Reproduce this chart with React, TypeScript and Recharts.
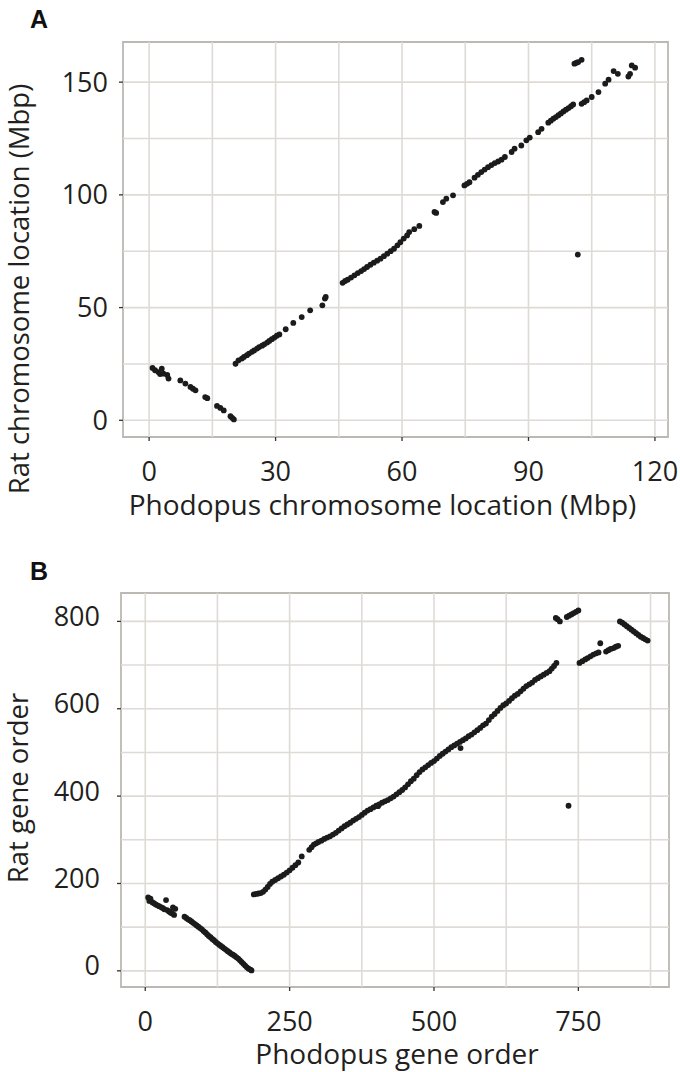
import React from 'react'
import { ReferenceArea, ReferenceLine, Scatter, ScatterChart, XAxis, YAxis } from 'recharts'

// Panel A: chromosome location, Mbp (phodopus x, rat y)
const aDescending = [
  [0.8, 23.2], [1.4, 22.2], [2.2, 21.4], [2.6, 20.5], [3.0, 22.9], [3.4, 20.7], [4.3, 20.1], [4.6, 18.5],
  [7.4, 17.7], [8.6, 16.3], [9.8, 14.8], [10.4, 14.0], [11.0, 13.3], [13.3, 10.3], [13.8, 9.8],
  [16.1, 6.4], [16.9, 5.5], [17.7, 4.4], [19.3, 1.8], [19.7, 1.1], [20.1, 0.4],
]
const aAscending = [
  [20.5, 25.1], [21.2, 26.6], [22.0, 27.4], [22.5, 28.1], [23.2, 28.9], [23.7, 29.6], [24.4, 30.4],
  [24.9, 31.0], [25.6, 31.8], [26.1, 32.5], [26.8, 33.1], [27.3, 33.7], [28.0, 34.5], [28.5, 35.2],
  [29.1, 36.0], [29.7, 36.7], [30.3, 37.5], [30.9, 38.1], [32.4, 40.4], [34.2, 43.2], [36.2, 45.8],
  [38.2, 48.8], [41.1, 51.0], [41.7, 54.0], [41.9, 54.7],
  [45.9, 61.0], [46.5, 61.8], [47.1, 62.4], [47.9, 63.3], [48.7, 64.3], [49.5, 65.3], [50.3, 66.2],
  [51.0, 67.1], [51.7, 68.0], [52.5, 69.0], [53.3, 69.9], [54.1, 70.8], [54.9, 71.7], [55.7, 72.8],
  [56.5, 73.9], [57.3, 75.0], [58.1, 76.1], [58.9, 77.6], [59.6, 79.0], [60.4, 80.6], [61.2, 82.0],
  [61.7, 83.5], [62.9, 84.8], [64.1, 86.2],
  [67.7, 92.4], [68.1, 92.0], [69.7, 96.8], [70.5, 98.3], [72.1, 99.8],
  [74.8, 104.2], [75.4, 104.9], [76.0, 105.6], [77.2, 107.6], [78.0, 108.9], [78.8, 110.1], [79.6, 111.2],
  [80.4, 112.3], [81.2, 113.2], [82.0, 114.1], [82.8, 114.8], [83.6, 115.6], [84.4, 116.8],
  [86.0, 119.0], [86.7, 120.5], [88.3, 121.9], [89.5, 124.2], [90.3, 125.4],
  [92.3, 127.8], [93.1, 129.3], [94.7, 132.0], [95.3, 132.9], [95.9, 133.8], [96.5, 134.5], [97.1, 135.3],
  [97.7, 136.1], [98.3, 137.0], [98.9, 137.8], [99.5, 138.5], [100.1, 139.3], [100.6, 140.1],
]
const aTail = [
  [102.6, 140.4], [103.2, 141.1], [103.8, 141.9], [105.0, 143.4], [106.6, 145.6], [108.2, 149.3],
  [109.0, 151.1], [110.2, 154.9], [111.2, 153.7], [113.7, 152.5], [114.1, 153.7], [114.5, 157.4], [115.3, 156.4],
  [100.9, 158.2], [101.4, 158.6], [101.8, 158.9], [102.6, 159.9],
  [101.7, 73.5],
]
const aXTicks = [0, 30, 60, 90, 120]
const aYTicks = [0, 50, 100, 150]
const aXGrid = [0, 15, 30, 45, 60, 75, 90, 105, 120]
const aYGrid = [0, 25, 50, 75, 100, 125, 150]
const aXDomain = [-6.2, 123.1]
const aYDomain = [-7.4, 167.8]

// Panel B: gene order
const bDescending = [
  [5, 168], [7, 160], [9, 165], [12, 157], [15, 155], [18, 152], [21, 150], [24, 148], [27, 146], [30, 144],
  [33, 141], [36, 162], [38, 139], [41, 136], [44, 133], [47, 131], [48, 145], [50, 128], [52, 142],
  [68, 124], [71, 121], [74, 118], [77, 116], [80, 113], [83, 110], [86, 107], [89, 104], [92, 101],
  [95, 98], [98, 95], [101, 91], [104, 88], [107, 84], [110, 80], [113, 77], [116, 73], [119, 70],
  [122, 66], [125, 63], [128, 60], [131, 57], [134, 54], [137, 51], [140, 48], [143, 45], [146, 42],
  [149, 39], [152, 37], [155, 34], [158, 31], [161, 28], [164, 24], [167, 20], [170, 16], [173, 12],
  [176, 8], [179, 5], [182, 3], [184, 1],
]
const bAscending = [
  [188, 175], [192, 176], [196, 177], [200, 178], [204, 181], [208, 186], [212, 192], [216, 199],
  [220, 204], [225, 208], [230, 212], [235, 216], [240, 220], [245, 225], [250, 230], [255, 236],
  [260, 242], [265, 248], [271, 262], [284, 277], [288, 283], [292, 289],
  [296, 292], [300, 295], [305, 298], [310, 302], [315, 305], [320, 308], [325, 312], [330, 316],
  [335, 321], [340, 326], [345, 331], [350, 335], [355, 339], [360, 344], [365, 348], [370, 352],
  [375, 357], [380, 362], [385, 367], [390, 370], [395, 374], [400, 378], [403, 377], [405, 381],
  [410, 385], [415, 388], [420, 391], [425, 395], [430, 399], [435, 404], [440, 409], [445, 414],
  [450, 420], [455, 427], [460, 434], [465, 440], [470, 448], [475, 455], [480, 461], [485, 466],
  [490, 471], [495, 476], [500, 480], [505, 486], [510, 492], [515, 497], [520, 502], [525, 507],
  [530, 512], [535, 516], [540, 520], [545, 524], [546, 510], [550, 528], [555, 532], [560, 537],
  [565, 541], [570, 546], [575, 551], [580, 556], [585, 562], [590, 566], [595, 574], [600, 582],
  [605, 588], [610, 595], [615, 602], [620, 608], [625, 612], [630, 618], [635, 624], [640, 630],
  [645, 634], [650, 640], [655, 646], [660, 652], [665, 656], [670, 660], [675, 666], [680, 670],
  [685, 674], [690, 678], [695, 682], [700, 686], [704, 692], [708, 698], [712, 705],
]
const bTail = [
  [711, 808], [714, 805], [718, 800], [730, 810], [734, 813], [738, 816], [742, 819], [746, 822], [750, 825],
  [752, 705], [757, 709], [762, 713], [766, 716], [771, 720], [776, 724], [781, 727], [785, 729], [788, 750],
  [798, 731], [802, 734], [806, 737], [811, 739], [815, 742], [819, 744],
  [822, 800], [826, 797], [830, 793], [834, 789], [838, 785], [842, 781], [846, 777], [850, 773],
  [854, 769], [858, 765], [862, 762], [866, 759], [870, 756],
  [733, 378],
]
const bXTicks = [0, 250, 500, 750]
const bYTicks = [0, 200, 400, 600, 800]
const bXGrid = [0, 125, 250, 375, 500, 625, 750, 875]
const bYGrid = [0, 100, 200, 300, 400, 500, 600, 700, 800]
const bXDomain = [-42, 907]
const bYDomain = [-37, 865]

const toPoints = (rows: number[][]) => rows.map(([x, y]) => ({ x, y }))

const FONT = '"Open Sans", sans-serif'
const INK = '#231f20'
const GRID = '#dedad6'
const FRAME = '#bcb8b4'

const tickFont = { fontFamily: FONT, fontSize: 27, fill: INK }

const Dot = (p: any) => <circle cx={p.cx} cy={p.cy} r={2.9} fill="#1b1b1b" />

function Panel({ data, xDomain, yDomain, xTicks, yTicks, xGrid, yGrid, height, margin, yTickMargin, yDy }: any) {
  return (
    <ScatterChart width={680} height={height} margin={margin}>
      {xGrid.map((v: number) => (
        <ReferenceLine key={'x' + v} x={v} stroke={GRID} strokeWidth={1.6} />
      ))}
      {yGrid.map((v: number) => (
        <ReferenceLine key={'y' + v} y={v} stroke={GRID} strokeWidth={1.6} />
      ))}
      <ReferenceArea
        x1={xDomain[0]} x2={xDomain[1]} y1={yDomain[0]} y2={yDomain[1]}
        fill="none" stroke={FRAME} strokeWidth={1.8} ifOverflow="visible"
      />
      <XAxis
        type="number" dataKey="x" domain={xDomain} ticks={xTicks} allowDataOverflow
        axisLine={false} tickSize={4} tickMargin={21} height={60}
        tickLine={{ stroke: '#333', strokeWidth: 1.3 }} tick={tickFont}
      />
      <YAxis
        type="number" dataKey="y" domain={yDomain} ticks={yTicks} allowDataOverflow
        axisLine={false} tickSize={4} tickMargin={yTickMargin} width={80}
        tickLine={{ stroke: '#333', strokeWidth: 1.3 }} tick={{ ...tickFont, dy: yDy }}
      />
      <Scatter data={data} shape={Dot} isAnimationActive={false} />
    </ScatterChart>
  )
}

export default function App() {
  const dataA = toPoints([...aDescending, ...aAscending, ...aTail])
  const dataB = toPoints([...bDescending, ...bAscending, ...bTail])
  return (
    <div style={{ position: 'absolute', left: 0, top: 0, width: 680, height: 1072, background: '#fff' }}>
      <div style={{ position: 'absolute', left: 0, top: 0 }}>
        <Panel
          data={dataA} xDomain={aXDomain} yDomain={aYDomain} xTicks={aXTicks} yTicks={aYTicks}
          xGrid={aXGrid} yGrid={aYGrid} height={540}
          margin={{ top: 42, right: 12, left: 43, bottom: 43 }} yTickMargin={11} yDy={0}
        />
      </div>
      <div style={{ position: 'absolute', left: 0, top: 540 }}>
        <Panel
          data={dataB} xDomain={bXDomain} yDomain={bYDomain} xTicks={bXTicks} yTicks={bYTicks}
          xGrid={bXGrid} yGrid={bYGrid} height={532}
          margin={{ top: 53, right: 11, left: 41, bottom: 25 }} yTickMargin={17} yDy={-5}
        />
      </div>
      <svg width={680} height={1072} style={{ position: 'absolute', left: 0, top: 0, pointerEvents: 'none' }}>
        <g fontFamily={FONT} fill={INK}>
          <text x={382.5} y={515} fontSize={28} textAnchor="middle">Phodopus chromosome location (Mbp)</text>
          <text transform="translate(29,289) rotate(-90)" fontSize={27.5} textAnchor="middle">Rat chromosome location (Mbp)</text>
          <text x={397} y={1064} fontSize={28} textAnchor="middle">Phodopus gene order</text>
          <text transform="translate(28,788) rotate(-90)" fontSize={27.5} textAnchor="middle">Rat gene order</text>
        </g>
        <g fontFamily='"Liberation Sans", Arial, sans-serif' fontWeight="bold" fontSize={25} fill="#111">
          <text x={30} y={28}>A</text>
          <text x={30} y={580}>B</text>
        </g>
      </svg>
    </div>
  )
}
